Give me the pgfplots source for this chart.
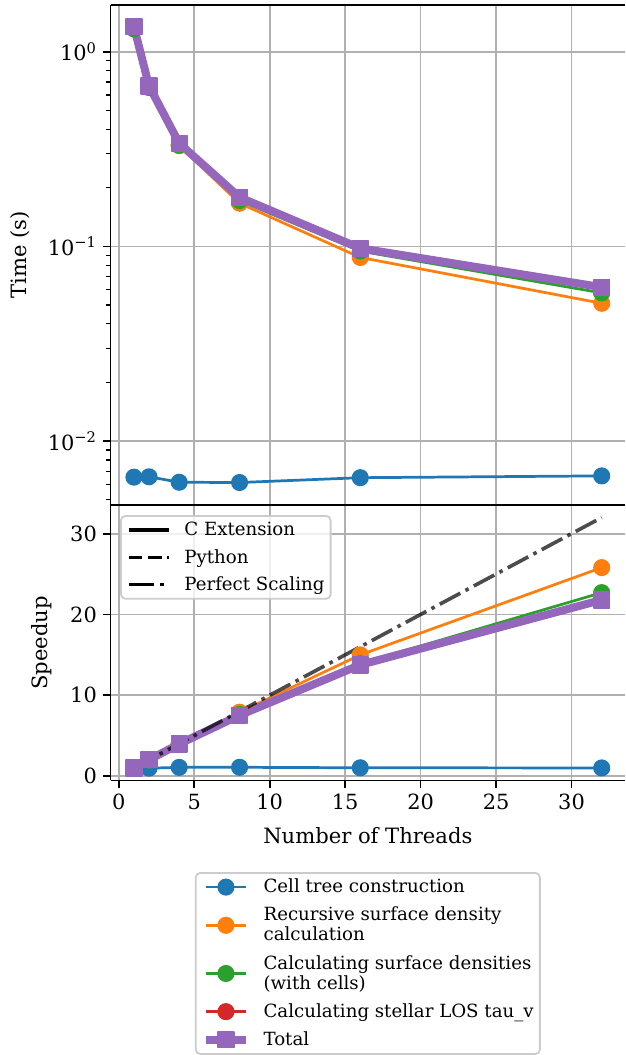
\documentclass[border=0pt]{standalone}
\usepackage{fontspec}
\setmainfont{DejaVu Serif}
\usepackage{pgfplots}
\pgfplotsset{compat=1.18}
\definecolor{tabblue}{HTML}{1F77B4}
\definecolor{taborange}{HTML}{FF7F0E}
\definecolor{tabgreen}{HTML}{2CA02C}
\definecolor{tabred}{HTML}{D62728}
\definecolor{tabpurple}{HTML}{9467BD}
\definecolor{gridgray}{HTML}{B0B0B0}
\definecolor{leggray}{HTML}{CCCCCC}
\pgfplotsset{
  mystyle/.style={
    scale only axis, width=283pt,
    xmin=-0.55, xmax=33.55,
    xtick={0,5,...,30},
    grid=major,
    major grid style={color=gridgray, line width=0.9pt},
    axis y line*=left,
    axis line style={line width=1pt, black},
    tick align=outside,
    major tick length=4pt,
    minor tick length=2.4pt,
    major tick style={black, line width=0.9pt},
    minor tick style={black, line width=0.7pt},
    xtick pos=left, ytick pos=left,
    tick label style={font=\fontsize{11.5}{13}\selectfont},
    label style={font=\fontsize{11.6}{14}\selectfont},
    ylabel style={yshift=3pt},
    /pgf/number format/assume math mode=true,
    every axis plot/.append style={line join=round},
    legend cell align=left,
    legend image code/.code={\draw[mark repeat=2, mark phase=2, #1] plot coordinates {(0pt,0pt)(11pt,0pt)(22pt,0pt)};},
  },
  mylegend/.style={
    draw=leggray, line width=1pt, rounded corners=2.5pt,
    font=\fontsize{10}{11}\selectfont,
    inner xsep=3.4pt, inner ysep=2.2pt,
    column sep=7.5pt, row sep=4.3pt,
    nodes={inner xsep=0pt, inner ysep=1pt},
    cells={align=left},
  },
}
\begin{document}
\begin{tikzpicture}
\begin{axis}[mystyle,
  at={(60.8pt,-2.75pt)}, anchor=north west, height=275pt,
  ymode=log, ymin=0.00469, ymax=1.738,
  ytick={0.01,0.1,1},
  yticklabels={10\textsuperscript{−2},10\textsuperscript{−1},10\textsuperscript{0}},
  minor ytick={0.005,0.006,0.007,0.008,0.009,0.02,0.03,0.04,0.05,0.06,0.07,0.08,0.09,0.2,0.3,0.4,0.5,0.6,0.7,0.8,0.9},
  xticklabels={},
  ylabel={Time (s)},
  legend style={mylegend, at={(0.5,-0.734)}, anchor=north, fill=white},
]
\addplot[tabblue, line width=1.5pt, mark=*, mark size=4.3pt, mark options={solid, line width=0.8pt}]
  coordinates {(1,0.00652)(2,0.00655)(4,0.00614)(8,0.00612)(16,0.00648)(32,0.00662)};
\addlegendentry{\strut Cell tree construction}
\addplot[taborange, line width=1.5pt, mark=*, mark size=4.3pt, mark options={solid, line width=0.8pt}]
  coordinates {(1,1.316)(2,0.658)(4,0.329)(8,0.1666)(16,0.0877)(32,0.0510)};
\addlegendentry{\strut Recursive surface density\\\strut calculation}
\addplot[tabgreen, line width=1.5pt, mark=*, mark size=4.3pt, mark options={solid, line width=0.8pt}]
  coordinates {(1,1.31)(2,0.655)(4,0.331)(8,0.172)(16,0.0945)(32,0.0577)};
\addlegendentry{\strut Calculating surface densities\\\strut (with cells)}
\addlegendimage{tabred, line width=1.5pt, mark=*, mark size=4.3pt, mark options={solid, line width=0.8pt}}
\addlegendentry{\strut Calculating stellar LOS tau\_v}
\addplot[tabpurple, line width=4.4pt, mark=square*, mark size=4.35pt, mark options={solid, line width=0.8pt}]
  coordinates {(1,1.344)(2,0.667)(4,0.3384)(8,0.1787)(16,0.0977)(32,0.0617)};
\addlegendentry{\strut Total}
\end{axis}
\begin{axis}[mystyle,
  at={(60.8pt,-277.75pt)}, anchor=north west, height=151.5pt,
  axis background/.style={fill=white},
  ymin=-0.55, ymax=33.55,
  ytick={0,10,20,30},
  xlabel={Number of Threads},
  ylabel={Speedup},
  xlabel style={yshift=-3pt},
  legend style={mylegend, row sep=3.8pt, at={(0,1)}, anchor=north west, xshift=5.2pt, yshift=-5.5pt, fill=white, fill opacity=0.8, draw opacity=1, text opacity=1},
]
\addlegendimage{black, line width=2pt, solid}
\addlegendentry{\strut C Extension}
\addlegendimage{black, line width=2pt, dash pattern=on 7.4pt off 3.2pt}
\addlegendentry{\strut Python}
\addlegendimage{black, line width=2pt, dash pattern=on 14pt off 3.2pt on 2pt off 3.2pt}
\addlegendentry{\strut Perfect Scaling}
\addplot[forget plot, tabblue, line width=1.5pt, mark=*, mark size=4.3pt, mark options={solid, line width=0.8pt}]
  coordinates {(1,1.0)(2,0.97)(4,1.07)(8,1.08)(16,1.02)(32,1.0)};
\addplot[forget plot, taborange, line width=1.5pt, mark=*, mark size=4.3pt, mark options={solid, line width=0.8pt}]
  coordinates {(1,1.0)(2,2.0)(4,4.0)(8,7.9)(16,15.0)(32,25.8)};
\addplot[forget plot, tabgreen, line width=1.5pt, mark=*, mark size=4.3pt, mark options={solid, line width=0.8pt}]
  coordinates {(1,1.0)(2,2.0)(4,3.98)(8,7.62)(16,13.9)(32,22.7)};
\addplot[forget plot, tabpurple, line width=4.4pt, mark=square*, mark size=4.35pt, mark options={solid, line width=0.8pt}]
  coordinates {(1,1.0)(2,2.01)(4,3.97)(8,7.52)(16,13.76)(32,21.8)};
\addplot[forget plot, black, opacity=0.7, line width=2pt, dash pattern=on 12.8pt off 3.2pt on 2pt off 3.2pt]
  coordinates {(1,1)(2,2)(4,4)(8,8)(16,16)(32,32)};
\end{axis}
\pgfresetboundingbox
\useasboundingbox (0pt,0pt) rectangle (343.75pt,-580.25pt);
\end{tikzpicture}
\end{document}
